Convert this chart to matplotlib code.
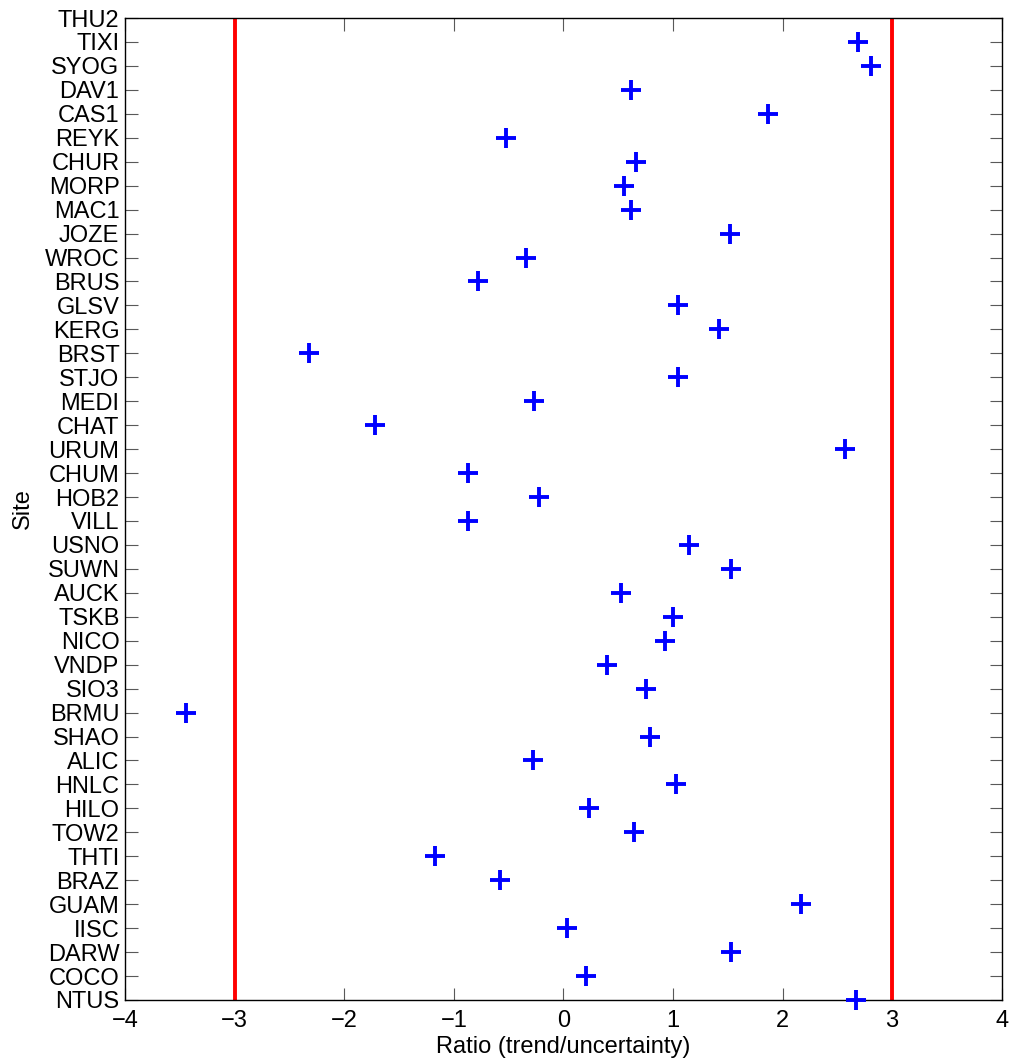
import matplotlib
matplotlib.use("Agg")
import matplotlib.pyplot as plt
import numpy as np

plt.rcParams['font.family'] = ['Liberation Sans', 'DejaVu Sans']

# sites, bottom to top
SITES = ["NTUS", "COCO", "DARW", "IISC", "GUAM", "BRAZ", "THTI", "TOW2", "HILO",
         "HNLC", "ALIC", "SHAO", "BRMU", "SIO3", "VNDP", "NICO", "TSKB", "AUCK",
         "SUWN", "USNO", "VILL", "HOB2", "CHUM", "URUM", "CHAT", "MEDI", "STJO",
         "BRST", "KERG", "GLSV", "BRUS", "WROC", "JOZE", "MAC1", "MORP", "CHUR",
         "REYK", "CAS1", "DAV1", "SYOG", "TIXI", "THU2"]
RATIO = [2.67, 0.21, 1.53, 0.03, 2.17, -0.58, -1.17, 0.64, 0.23,
         1.03, -0.28, 0.79, -3.44, 0.75, 0.40, 0.93, 1.00, 0.53,
         1.53, 1.15, -0.87, -0.22, -0.87, 2.57, -1.72, -0.27, 1.05,
         -2.32, 1.42, 1.05, -0.78, -0.34, 1.52, 0.62, 0.55, 0.66,
         -0.52, 1.87, 0.62, 2.81, 2.69, np.nan]
LIMITS = [-3, 3]

fig = plt.figure(figsize=(10.10, 10.61), dpi=100)
ax = fig.add_axes([0.1238, 0.0575, 0.868, 0.9255])

pos = np.arange(1, len(SITES) + 1)
ax.plot(RATIO, pos, linestyle="none", marker="+", color="#0000ff",
        markersize=14, markeredgewidth=2.8, clip_on=False, zorder=3)
for lim in LIMITS:
    ax.axvline(lim, color="#ff0000", linewidth=2.8, zorder=2)

ax.set_xlim(-4, 4)
ax.set_ylim(1, len(SITES))
ax.set_xticks(range(-4, 5))
ax.set_yticks(pos)
ax.set_yticklabels(SITES)

ax.tick_params(direction="in", top=True, right=True, length=9, width=0.8,
               labelsize=17, color="0.35")
ax.tick_params(axis="x", pad=7)
ax.tick_params(axis="y", pad=4)
for spine in ax.spines.values():
    spine.set_linewidth(1.0)

ax.set_xlabel("Ratio (trend/uncertainty)", fontsize=17, labelpad=3)
ax.set_ylabel("Site", fontsize=17, labelpad=8)

fig.savefig("out.png", dpi=100, facecolor="white")
